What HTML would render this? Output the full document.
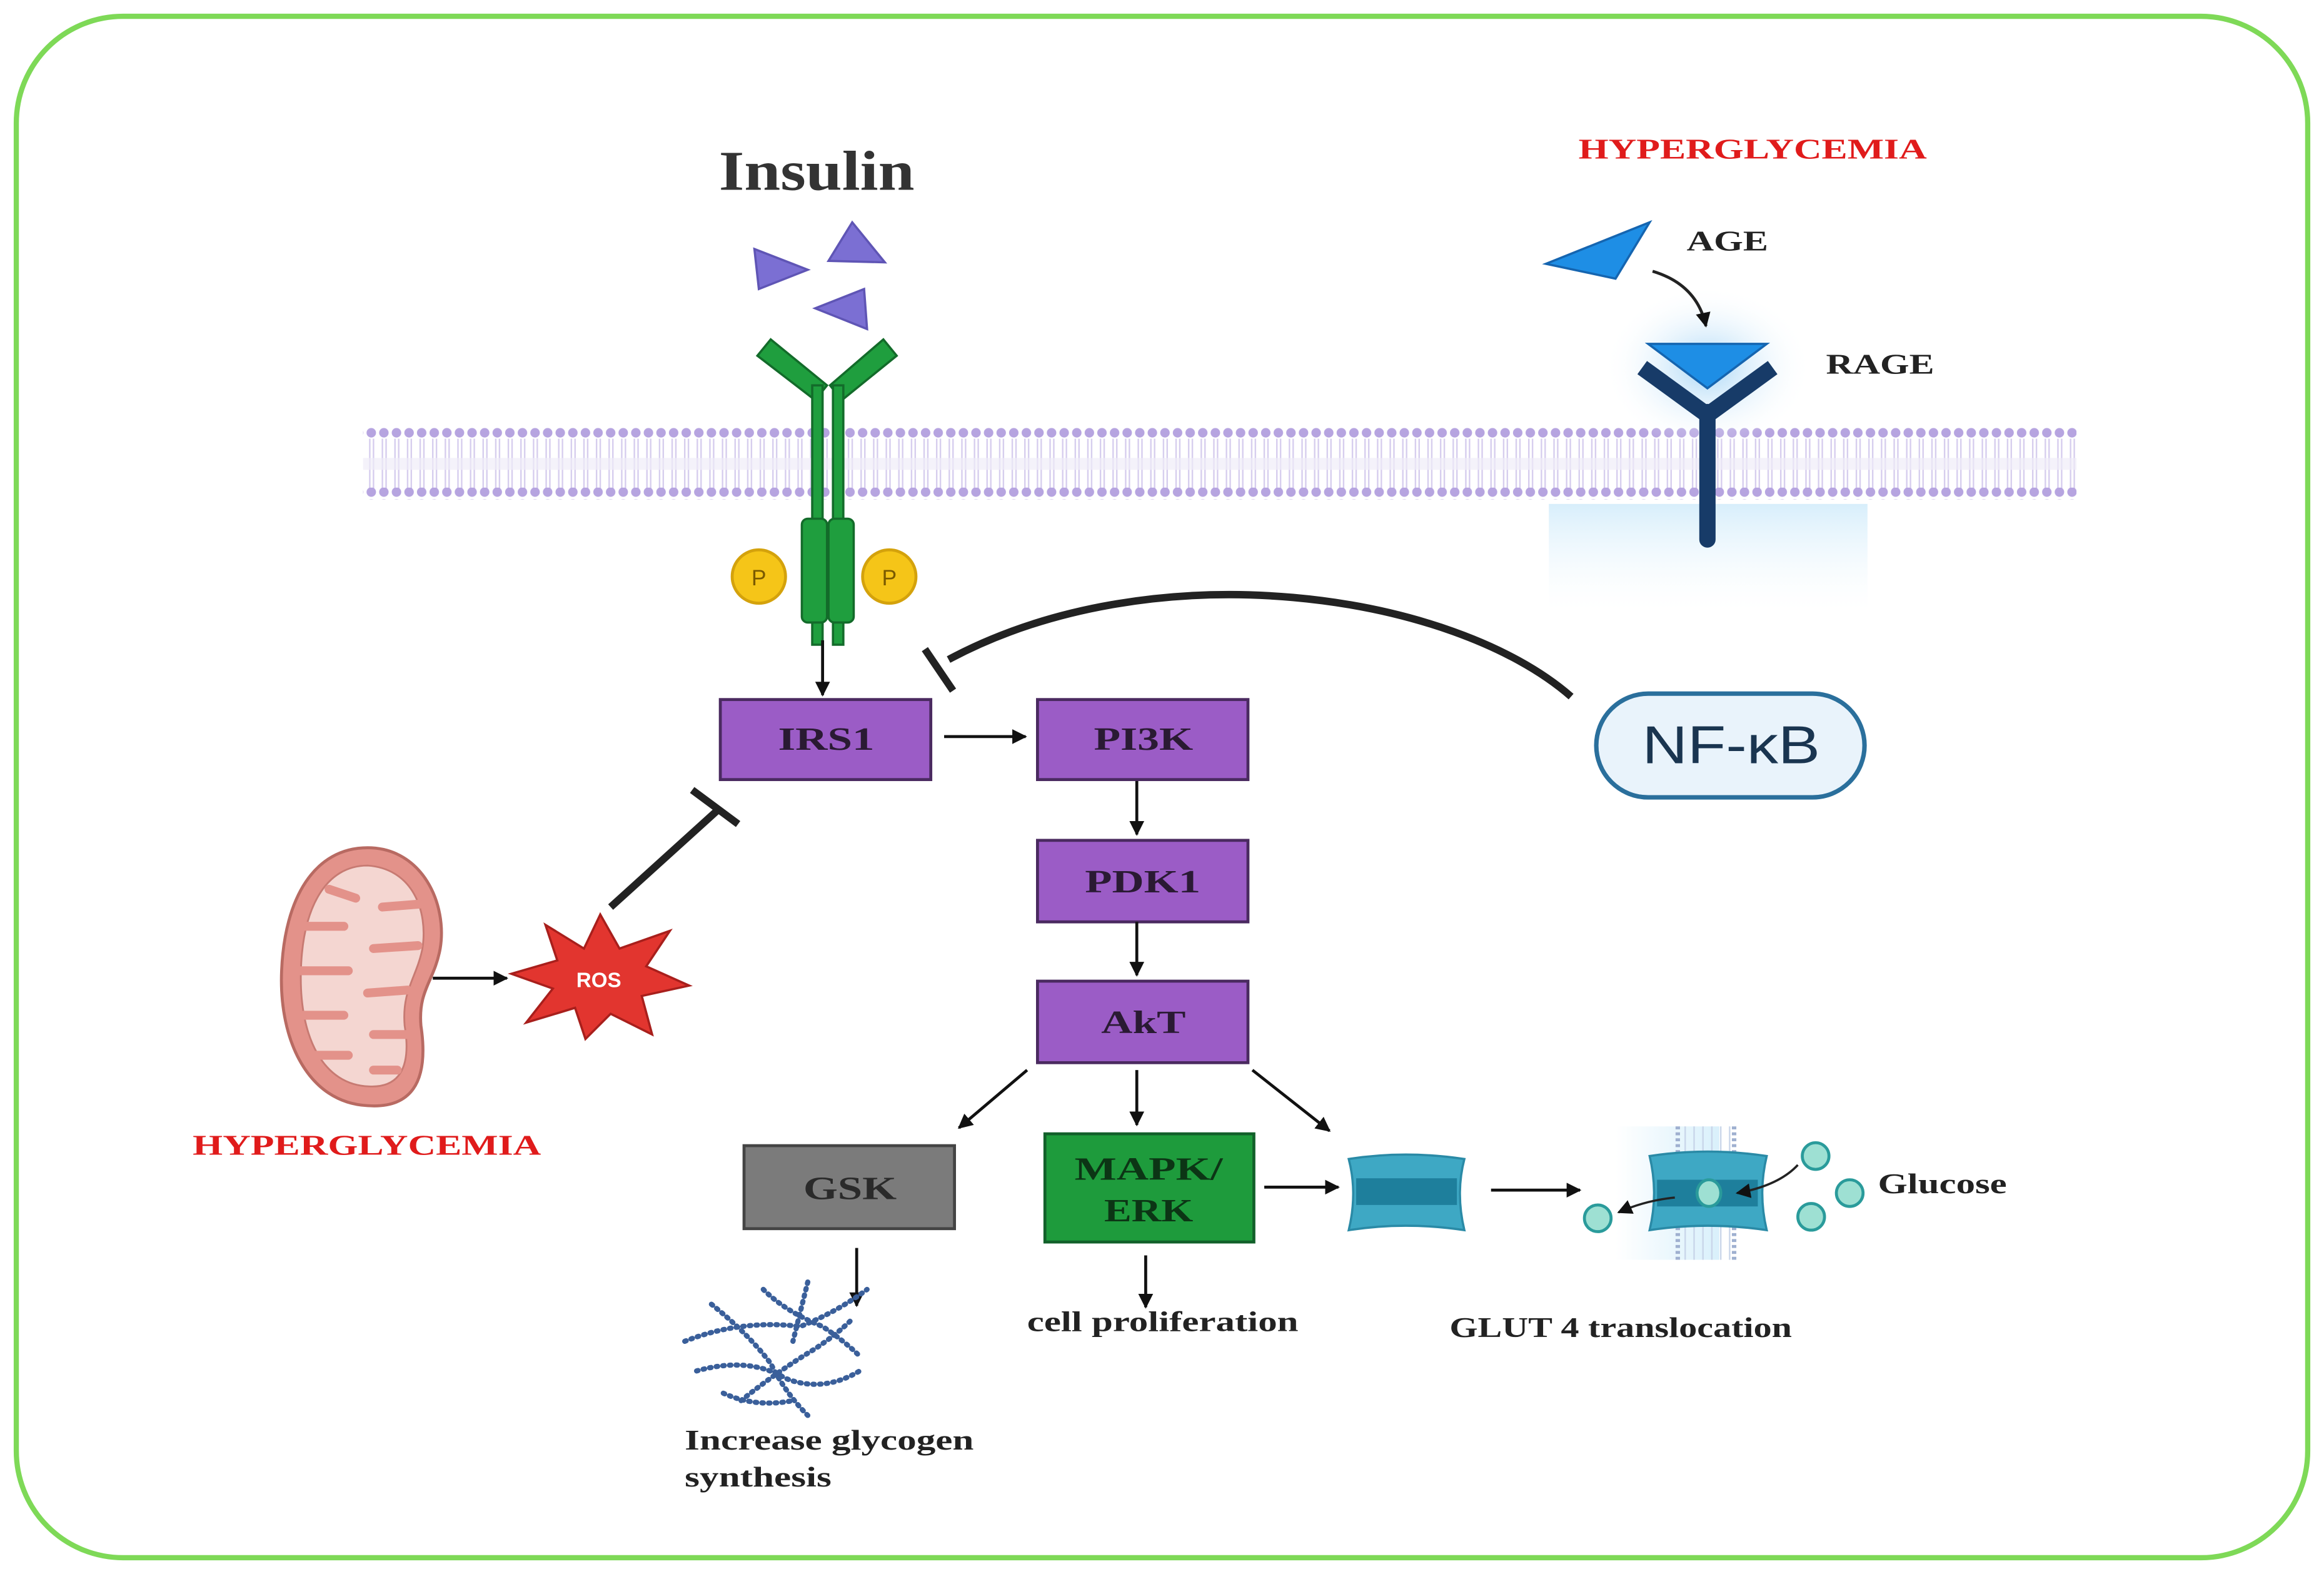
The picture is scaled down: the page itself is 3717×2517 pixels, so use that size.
<!DOCTYPE html>
<html><head><meta charset="utf-8">
<style>
html,body{margin:0;padding:0;background:#fff;}
svg{display:block;}
.t{font-family:"Liberation Serif",serif;font-weight:bold;}
</style></head>
<body>
<svg width="3717" height="2517" viewBox="0 0 1568 1062" preserveAspectRatio="none" xmlns="http://www.w3.org/2000/svg">
<defs>
<pattern id="heads" x="0" y="0" width="8.5" height="8" patternUnits="userSpaceOnUse">
<circle cx="4" cy="4" r="3.2" fill="#b6a4e0"/>
</pattern>
<pattern id="tails" x="0" y="0" width="8.5" height="30" patternUnits="userSpaceOnUse">
<line x1="3" y1="0" x2="3" y2="30" stroke="#d6cdee" stroke-width="1"/>
<line x1="5.5" y1="0" x2="5.5" y2="30" stroke="#d6cdee" stroke-width="1"/>
</pattern>
<pattern id="tails2" x="0" y="0" width="6" height="30" patternUnits="userSpaceOnUse">
<line x1="3" y1="0" x2="3" y2="30" stroke="#c9d6ea" stroke-width="1"/>
</pattern>
<radialGradient id="glow" cx="0.5" cy="0.5" r="0.5">
<stop offset="0" stop-color="#9fd2f5" stop-opacity="0.9"/>
<stop offset="1" stop-color="#ffffff" stop-opacity="0"/>
</radialGradient>
<linearGradient id="glowr" x1="0" y1="0" x2="0" y2="1">
<stop offset="0" stop-color="#d7eefb"/><stop offset="1" stop-color="#ffffff" stop-opacity="0.2"/>
</linearGradient>
<linearGradient id="glowg" x1="0" y1="0" x2="1" y2="0">
<stop offset="0" stop-color="#ffffff"/><stop offset="1" stop-color="#d9f0fb"/>
</linearGradient>
<marker id="ah" markerWidth="10" markerHeight="10" refX="9" refY="5" orient="auto" markerUnits="userSpaceOnUse">
<path d="M0,0 L10,5 L0,10 z" fill="#111"/>
</marker>
</defs>

<rect x="11" y="11" width="1546" height="1040" rx="72" ry="72" fill="#fff" stroke="#7ed957" stroke-width="3.5"/>

<!-- membrane -->
<rect x="245" y="296" width="1156" height="34" fill="url(#tails)"/>
<rect x="245" y="288" width="1156" height="8" fill="url(#heads)"/>
<rect x="245" y="329" width="1156" height="8" fill="url(#heads)"/>
<rect x="245" y="309" width="1156" height="8" fill="#f0ecf8" opacity="0.7"/>

<!-- Insulin -->
<text x="485" y="128" textLength="132" lengthAdjust="spacingAndGlyphs" font-family="Liberation Serif,serif" font-weight="bold" font-size="38" fill="#333">Insulin</text>
<polygon points="509,168 545,182 512,195" fill="#7b6fd3" stroke="#5f55b5" stroke-width="1.5"/>
<polygon points="575,150 597,177 559,176" fill="#7b6fd3" stroke="#5f55b5" stroke-width="1.5"/>
<polygon points="583,195 585,222 550,208" fill="#7b6fd3" stroke="#5f55b5" stroke-width="1.5"/>

<!-- receptor -->
<g fill="#1f9e3e" stroke="#136b2a" stroke-width="1.5">
<polygon points="511,240 520,229 558,260 550,270"/>
<polygon points="605,240 596,229 560,260 568,270"/>
<rect x="548" y="260" width="7" height="175"/>
<rect x="562" y="260" width="7" height="175"/>
<rect x="541" y="350" width="17" height="70" rx="4"/>
<rect x="559" y="350" width="17" height="70" rx="4"/>
</g>
<circle cx="512" cy="389" r="18" fill="#f5c518" stroke="#d4a20c" stroke-width="2"/>
<text x="512" y="395" text-anchor="middle" font-family="Liberation Sans,sans-serif" font-size="15" fill="#7a5a00">P</text>
<circle cx="600" cy="389" r="18" fill="#f5c518" stroke="#d4a20c" stroke-width="2"/>
<text x="600" y="395" text-anchor="middle" font-family="Liberation Sans,sans-serif" font-size="15" fill="#7a5a00">P</text>

<line x1="555" y1="432" x2="555" y2="469" stroke="#111" stroke-width="2" marker-end="url(#ah)"/>

<!-- boxes -->
<g stroke="#4a2a60" stroke-width="2" fill="#9b5cc6">
<rect x="486" y="472" width="142" height="54"/>
<rect x="700" y="472" width="142" height="54"/>
<rect x="700" y="567" width="142" height="55"/>
<rect x="700" y="662" width="142" height="55"/>
</g>
<rect x="502" y="773" width="142" height="56" fill="#7b7b7b" stroke="#444" stroke-width="2"/>
<rect x="705" y="765" width="141" height="73" fill="#1e9b3c" stroke="#12602a" stroke-width="2"/>
<g class="t" font-size="22" fill="#2a1a33" lengthAdjust="spacingAndGlyphs">
<text x="525" y="506" textLength="65" lengthAdjust="spacingAndGlyphs">IRS1</text>
<text x="738" y="506" textLength="67" lengthAdjust="spacingAndGlyphs">PI3K</text>
<text x="732" y="602" textLength="78" lengthAdjust="spacingAndGlyphs">PDK1</text>
<text x="743" y="697" textLength="57" lengthAdjust="spacingAndGlyphs">AkT</text>
<text x="542" y="809" fill="#2a2a2a" textLength="63" lengthAdjust="spacingAndGlyphs">GSK</text>
<text x="725" y="796" fill="#0c3515" textLength="100" lengthAdjust="spacingAndGlyphs">MAPK/</text>
<text x="745" y="824" fill="#0c3515" textLength="60" lengthAdjust="spacingAndGlyphs">ERK</text>
</g>

<g stroke="#111" stroke-width="2" fill="none">
<line x1="637" y1="497" x2="692" y2="497" marker-end="url(#ah)"/>
<line x1="767" y1="527" x2="767" y2="563" marker-end="url(#ah)"/>
<line x1="767" y1="622" x2="767" y2="658" marker-end="url(#ah)"/>
<line x1="693" y1="722" x2="647" y2="761" marker-end="url(#ah)"/>
<line x1="767" y1="722" x2="767" y2="759" marker-end="url(#ah)"/>
<line x1="845" y1="722" x2="897" y2="763" marker-end="url(#ah)"/>
<line x1="853" y1="801" x2="903" y2="801" marker-end="url(#ah)"/>
<line x1="1006" y1="803" x2="1066" y2="803" marker-end="url(#ah)"/>
<line x1="578" y1="842" x2="578" y2="881" marker-end="url(#ah)"/>
<line x1="773" y1="847" x2="773" y2="882" marker-end="url(#ah)"/>
<line x1="292" y1="660" x2="342" y2="660" marker-end="url(#ah)"/>
</g>

<!-- channel 1 -->
<path d="M910,782 Q948,776 988,782 Q982,805 988,830 Q948,824 910,830 Q916,805 910,782 z" fill="#3ea8c4" stroke="#2a8aa6" stroke-width="1.5"/>
<rect x="915" y="795" width="68" height="18" fill="#1e7f9c"/>

<!-- GLUT4 membrane -->
<rect x="1090" y="760" width="70" height="90" fill="url(#glowg)"/>
<rect x="1132" y="760" width="38" height="90" fill="url(#tails2)"/>
<line x1="1132" y1="760" x2="1132" y2="850" stroke="#9fb0d0" stroke-width="3" stroke-dasharray="2,2"/>
<line x1="1170" y1="760" x2="1170" y2="850" stroke="#9fb0d0" stroke-width="3" stroke-dasharray="2,2"/>
<path d="M1113,780 Q1152,774 1192,780 Q1186,805 1192,830 Q1152,824 1113,830 Q1119,805 1113,780 z" fill="#3ea8c4" stroke="#2a8aa6" stroke-width="1.5"/>
<rect x="1118" y="796" width="68" height="18" fill="#1e7f9c"/>
<g fill="#9ee0d3" stroke="#2a9b9b" stroke-width="2">
<ellipse cx="1153" cy="805" rx="8" ry="9"/>
<ellipse cx="1078" cy="822" rx="9" ry="9"/>
<ellipse cx="1225" cy="780" rx="9" ry="9"/>
<ellipse cx="1248" cy="805" rx="9" ry="9"/>
<ellipse cx="1222" cy="821" rx="9" ry="9"/>
</g>
<path d="M1213,786 Q1200,800 1172,805" stroke="#222" stroke-width="1.5" fill="none" marker-end="url(#ah)"/>
<path d="M1130,808 Q1110,810 1092,818" stroke="#222" stroke-width="1.5" fill="none" marker-end="url(#ah)"/>

<!-- glycogen -->
<g fill="none" stroke="#3a5f9a" stroke-width="3.5" stroke-dasharray="1,3.5" stroke-linecap="round">
<path d="M462,905 Q500,890 540,895 Q565,885 585,870"/>
<path d="M470,925 Q505,915 530,930 Q555,940 580,925"/>
<path d="M480,880 Q505,900 520,920 Q530,940 545,955"/>
<path d="M500,945 Q525,925 550,910 Q565,900 575,890"/>
<path d="M515,870 Q530,885 555,895 Q570,905 580,915"/>
<path d="M488,940 Q510,950 535,945"/>
<path d="M545,865 Q540,885 535,905"/>
</g>

<!-- mitochondrion -->
<path d="M248,572 C285,572 302,610 297,640 C293,662 282,668 284,692 C290,732 276,748 248,746 C208,744 188,702 190,655 C192,606 212,572 248,572 z" fill="#e3928a" stroke="#b86a62" stroke-width="2"/>
<path d="M248,584 C278,586 289,614 285,640 C281,660 271,668 273,692 C278,722 268,734 249,733 C218,732 202,700 203,656 C204,612 220,584 248,584 z" fill="#f4d6d1" stroke="#c77a72" stroke-width="1.2"/>
<g stroke="#e3928a" stroke-width="6" stroke-linecap="round" fill="none">
<line x1="203" y1="625" x2="232" y2="625"/>
<line x1="203" y1="655" x2="235" y2="655"/>
<line x1="205" y1="685" x2="232" y2="685"/>
<line x1="212" y1="712" x2="235" y2="712"/>
<line x1="222" y1="600" x2="240" y2="606"/>
<line x1="283" y1="610" x2="258" y2="612"/>
<line x1="282" y1="638" x2="252" y2="640"/>
<line x1="275" y1="668" x2="248" y2="670"/>
<line x1="275" y1="698" x2="252" y2="698"/>
<line x1="268" y1="722" x2="252" y2="722"/>
</g>

<!-- ROS -->
<polygon points="405,617 418,640 452,628 436,652 465,665 433,672 440,698 412,684 395,701 388,680 355,690 373,667 345,657 376,648 368,624 394,640" fill="#e2352f" stroke="#a81f1c" stroke-width="1.5"/>
<text x="404" y="666" text-anchor="middle" font-family="Liberation Sans,sans-serif" font-weight="bold" font-size="14" fill="#fff">ROS</text>

<!-- inhibition ROS -> IRS1 -->
<g stroke="#222" stroke-width="5" stroke-linecap="butt">
<line x1="412" y1="612" x2="486" y2="545"/>
<line x1="467" y1="533" x2="498" y2="556"/>
</g>

<text x="130" y="779" textLength="235" lengthAdjust="spacingAndGlyphs" class="t" font-size="19" fill="#e01b1b">HYPERGLYCEMIA</text>
<text x="1065" y="107" textLength="235" lengthAdjust="spacingAndGlyphs" class="t" font-size="19" fill="#e01b1b">HYPERGLYCEMIA</text>

<!-- NF-kB -->
<rect x="1077" y="468" width="181" height="70" rx="35" fill="#e9f3fb" stroke="#2a6f9c" stroke-width="3"/>
<text x="1108" y="515" textLength="120" lengthAdjust="spacingAndGlyphs" font-family="Liberation Sans,sans-serif" font-size="36" fill="#1a3550">NF-κB</text>
<path d="M1060,470 C980,400 780,370 640,445" fill="none" stroke="#222" stroke-width="5"/>
<line x1="624" y1="438" x2="643" y2="466" stroke="#222" stroke-width="5"/>

<!-- AGE / RAGE -->
<rect x="1045" y="340" width="215" height="72" fill="url(#glowr)"/>
<ellipse cx="1152" cy="248" rx="70" ry="55" fill="url(#glow)"/>
<polygon points="1043,178 1113,150 1090,188" fill="#1e8ee5" stroke="#1565b0" stroke-width="1.5"/>
<text x="1138" y="169" textLength="55" lengthAdjust="spacingAndGlyphs" class="t" font-size="19" fill="#222">AGE</text>
<path d="M1115,183 Q1145,192 1151,220" fill="none" stroke="#222" stroke-width="2" marker-end="url(#ah)"/>
<polygon points="1112,232 1192,232 1152,262" fill="#1e8ee5" stroke="#1565b0" stroke-width="1.5"/>
<path d="M1108,248 L1152,280 L1196,248" fill="none" stroke="#173b68" stroke-width="11" stroke-linejoin="miter"/>
<line x1="1152" y1="278" x2="1152" y2="364" stroke="#173b68" stroke-width="11" stroke-linecap="round"/>
<text x="1232" y="252" textLength="73" lengthAdjust="spacingAndGlyphs" class="t" font-size="19" fill="#222">RAGE</text>

<!-- labels -->
<g class="t" font-size="19" fill="#222">
<text x="1267" y="805" textLength="87" lengthAdjust="spacingAndGlyphs">Glucose</text>
<text x="693" y="898" textLength="183" lengthAdjust="spacingAndGlyphs">cell proliferation</text>
<text x="978" y="902" textLength="231" lengthAdjust="spacingAndGlyphs">GLUT 4 translocation</text>
<text x="462" y="978" textLength="195" lengthAdjust="spacingAndGlyphs">Increase glycogen</text>
<text x="462" y="1003" textLength="99" lengthAdjust="spacingAndGlyphs">synthesis</text>
</g>
</svg>
</body></html>
